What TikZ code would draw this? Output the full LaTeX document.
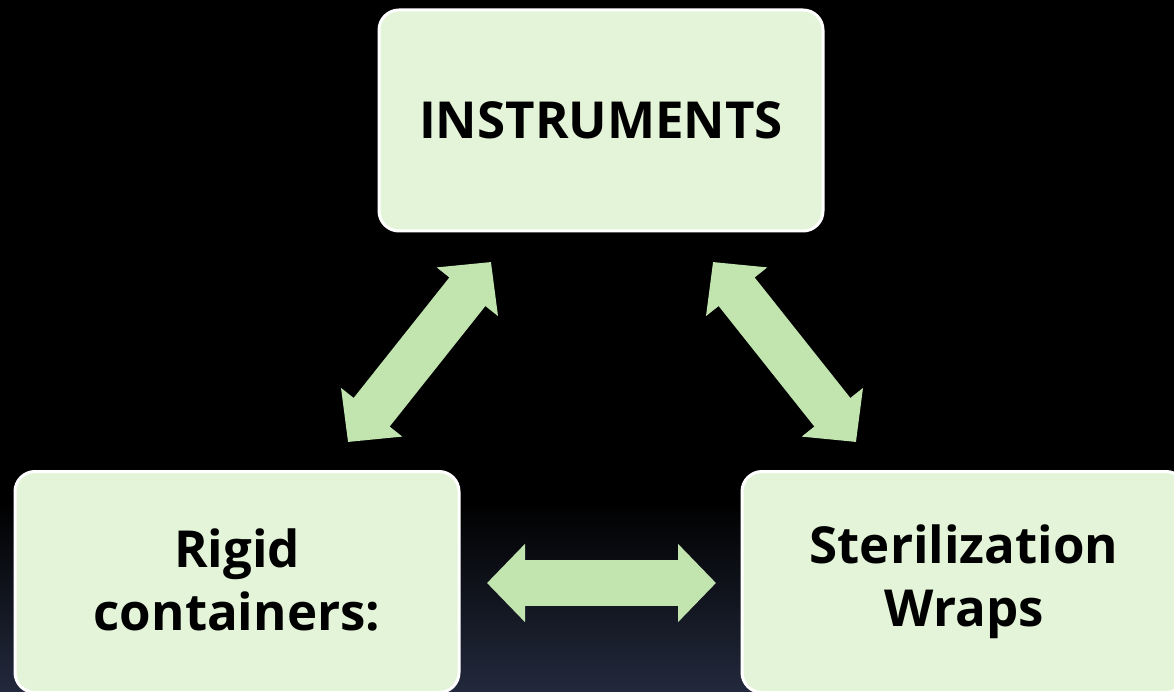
\documentclass[tikz,border=0pt]{standalone}
\usepackage{fontspec}
\setmainfont{Open Sans}
\usetikzlibrary{arrows.meta}
\definecolor{boxfill}{RGB}{228,244,216}
\definecolor{arrowfill}{RGB}{194,229,176}
\definecolor{bgbottom}{RGB}{34,41,60}
\tikzset{
  box/.style={draw=white, line width=3pt, fill=boxfill, rounded corners=20pt,
    minimum width=444pt, minimum height=221pt, align=center, text=black,
    font=\fontsize{51}{63}\selectfont\bfseries, inner sep=0pt},
  bigarrow/.style={draw=arrowfill, line width=46pt,
    {Triangle[length=38pt,width=76pt,fill=arrowfill]}-{Triangle[length=38pt,width=76pt,fill=arrowfill]}}
}
\begin{document}
\begin{tikzpicture}[x=1pt,y=1pt]
\useasboundingbox (0,0) rectangle (1174,-692);
\fill[black] (0,0) rectangle (1174,-692);
\shade[top color=black, bottom color=bgbottom] (0,-500) rectangle (1174,-692);
\begin{scope}
\clip (0,0) rectangle (1174,-692);
\node[box] (instr) at (601,-120.5) {INSTRUMENTS};
\node[box] (rigid) at (237,-582) {\raisebox{4pt}{Rigid}\\\raisebox{4pt}{containers:}};
\node[box] (wraps) at (964,-582) {\raisebox{4pt}{Sterilization}\\\raisebox{4pt}{Wraps}};
\end{scope}
\coordinate (l1) at (348,-442);
\coordinate (l2) at (491,-262);
\coordinate (r1) at (713,-262);
\coordinate (r2) at (856,-442);
\coordinate (h1) at (487,-583);
\coordinate (h2) at (716,-583);
\draw[bigarrow] (l1) -- (l2);
\draw[bigarrow] (r1) -- (r2);
\draw[bigarrow] (h1) -- (h2);
\end{tikzpicture}
\end{document}
